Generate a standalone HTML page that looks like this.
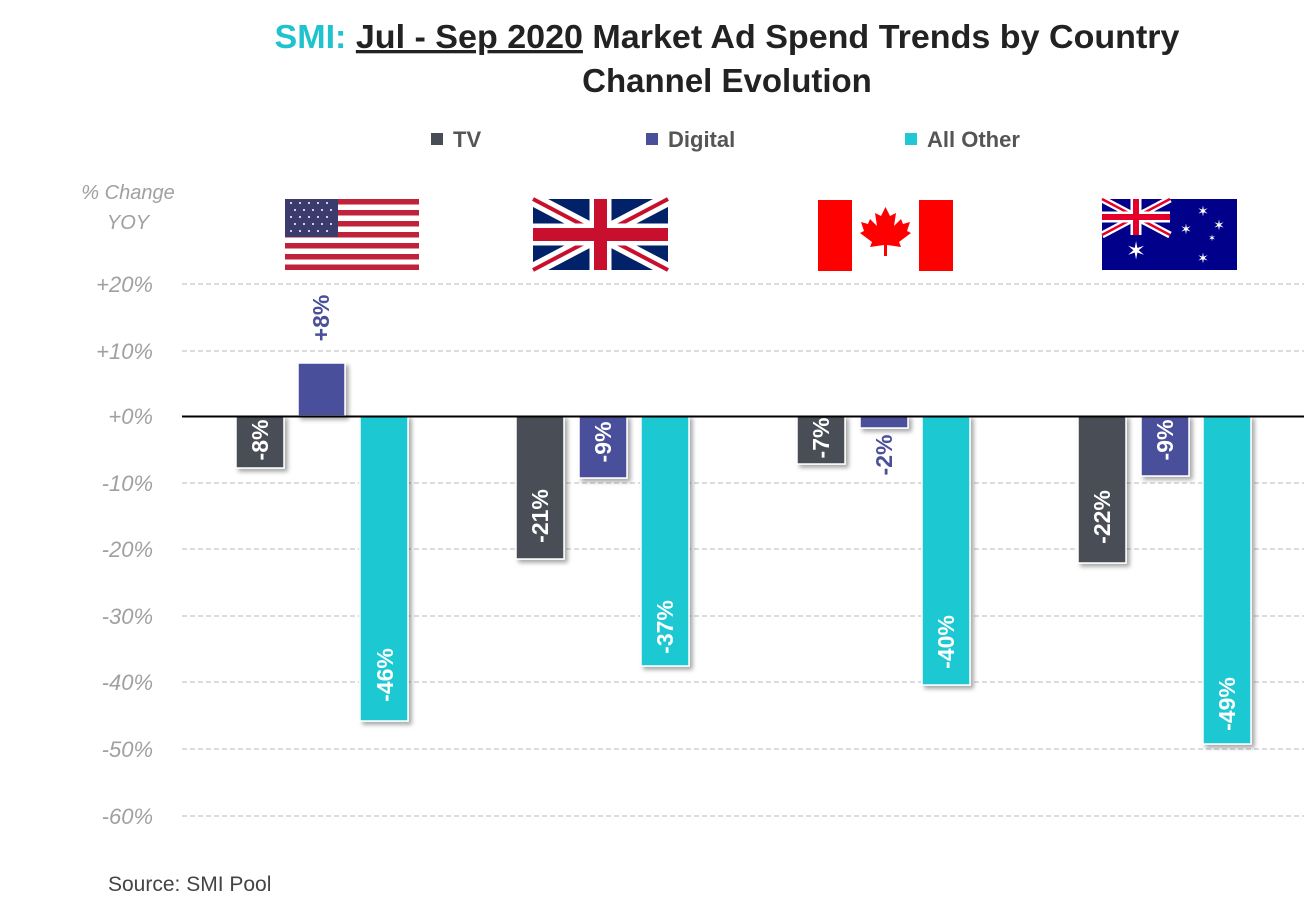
<!DOCTYPE html>
<html><head><meta charset="utf-8"><style>
body{margin:0;background:#fff;}
svg{display:block;font-family:"Liberation Sans",sans-serif;}
</style></head><body>
<svg width="1304" height="915" viewBox="0 0 1304 915" xmlns="http://www.w3.org/2000/svg">
<defs>
<filter id="sh" x="-20%" y="-20%" width="150%" height="150%"><feDropShadow dx="3" dy="3" stdDeviation="2" flood-color="#000" flood-opacity="0.35"/></filter>
</defs>
<!-- title -->
<text x="727" y="48" text-anchor="middle" font-size="33" font-weight="bold" fill="#222" textLength="905" lengthAdjust="spacingAndGlyphs"><tspan fill="#1fc3cd">SMI:</tspan> <tspan text-decoration="underline">Jul - Sep 2020</tspan> Market Ad Spend Trends by Country</text>
<text x="727" y="92" text-anchor="middle" font-size="33" font-weight="bold" fill="#222">Channel Evolution</text>
<!-- legend -->
<rect x="431" y="133" width="12" height="12" fill="#484d55"/>
<text x="453" y="147" font-size="22" font-weight="bold" fill="#555">TV</text>
<rect x="646" y="133" width="12" height="12" fill="#4a4f9a"/>
<text x="668" y="147" font-size="22" font-weight="bold" fill="#555">Digital</text>
<rect x="905" y="133" width="12" height="12" fill="#1fc8d2"/>
<text x="927" y="147" font-size="22" font-weight="bold" fill="#555">All Other</text>
<!-- axis title -->
<g font-style="italic" fill="#a0a0a0" font-size="20" text-anchor="middle">
<text x="128" y="199">% Change</text><text x="128" y="229">YOY</text>
</g>
<!-- grid -->
<g stroke="#c8c8c8" stroke-width="1.2" stroke-dasharray="5,3">
<line x1="182" y1="284" x2="1304" y2="284"/><line x1="182" y1="351" x2="1304" y2="351"/>
<line x1="182" y1="483" x2="1304" y2="483"/><line x1="182" y1="549" x2="1304" y2="549"/>
<line x1="182" y1="616" x2="1304" y2="616"/><line x1="182" y1="682" x2="1304" y2="682"/>
<line x1="182" y1="749" x2="1304" y2="749"/><line x1="182" y1="816" x2="1304" y2="816"/>
</g>
<g font-style="italic" fill="#a0a0a0" font-size="22" text-anchor="end">
<text x="153" y="292">+20%</text><text x="153" y="359">+10%</text><text x="153" y="424">+0%</text>
<text x="153" y="491">-10%</text><text x="153" y="557">-20%</text><text x="153" y="624">-30%</text>
<text x="153" y="690">-40%</text><text x="153" y="757">-50%</text><text x="153" y="824">-60%</text>
</g>
<!-- bars -->
<g filter="url(#sh)" stroke="#fff" stroke-width="1.5">
<rect x="236" y="416" width="48" height="52" fill="#484d55"/>
<rect x="298" y="363" width="47" height="53" fill="#4a4f9a"/>
<rect x="360" y="416" width="48" height="305" fill="#1fc8d2"/>
<rect x="516" y="416" width="48" height="143" fill="#484d55"/>
<rect x="579" y="416" width="48" height="62" fill="#4a4f9a"/>
<rect x="641" y="416" width="48" height="250" fill="#1fc8d2"/>
<rect x="797" y="416" width="48" height="48" fill="#484d55"/>
<rect x="860" y="416" width="48" height="12" fill="#4a4f9a"/>
<rect x="922" y="416" width="48" height="269" fill="#1fc8d2"/>
<rect x="1078" y="416" width="48" height="147" fill="#484d55"/>
<rect x="1141" y="416" width="48" height="60" fill="#4a4f9a"/>
<rect x="1203" y="416" width="48" height="328" fill="#1fc8d2"/>
</g>
<line x1="182" y1="416.5" x2="1304" y2="416.5" stroke="#000" stroke-width="2"/>
<!-- bar labels -->
<g font-size="23" font-weight="bold" fill="#fff" text-anchor="middle">
<text transform="translate(268,440) rotate(-90)">-8%</text>
<text transform="translate(393,675) rotate(-90)">-46%</text>
<text transform="translate(548,516) rotate(-90)">-21%</text>
<text transform="translate(611,442) rotate(-90)">-9%</text>
<text transform="translate(673,627) rotate(-90)">-37%</text>
<text transform="translate(829,438) rotate(-90)">-7%</text>
<text transform="translate(954,642) rotate(-90)">-40%</text>
<text transform="translate(1110,517) rotate(-90)">-22%</text>
<text transform="translate(1173,440) rotate(-90)">-9%</text>
<text transform="translate(1235,704) rotate(-90)">-49%</text>
</g>
<g font-size="23" font-weight="bold" fill="#4a4f9a" text-anchor="middle">
<text transform="translate(329,318) rotate(-90)">+8%</text>
<text transform="translate(892,455) rotate(-90)">-2%</text>
</g>
<!-- US flag -->
<g transform="translate(285,199)">
<rect width="134" height="71" fill="#fff"/>
<g fill="#c0223a">
<rect y="0" width="134" height="5.5"/><rect y="11" width="134" height="5.5"/><rect y="22" width="134" height="5.5"/>
<rect y="33" width="134" height="5.5"/><rect y="44" width="134" height="5.5"/><rect y="55" width="134" height="5.5"/><rect y="65.5" width="134" height="5.5"/>
</g>
<rect width="53" height="38" fill="#3c3b6e"/>
<g fill="#fff">
<circle cx="6" cy="4" r="1"/><circle cx="15" cy="4" r="1"/><circle cx="24" cy="4" r="1"/><circle cx="33" cy="4" r="1"/><circle cx="42" cy="4" r="1"/>
<circle cx="10" cy="11" r="1"/><circle cx="19" cy="11" r="1"/><circle cx="28" cy="11" r="1"/><circle cx="37" cy="11" r="1"/><circle cx="46" cy="11" r="1"/>
<circle cx="6" cy="18" r="1"/><circle cx="15" cy="18" r="1"/><circle cx="24" cy="18" r="1"/><circle cx="33" cy="18" r="1"/><circle cx="42" cy="18" r="1"/>
<circle cx="10" cy="25" r="1"/><circle cx="19" cy="25" r="1"/><circle cx="28" cy="25" r="1"/><circle cx="37" cy="25" r="1"/><circle cx="46" cy="25" r="1"/>
<circle cx="6" cy="32" r="1"/><circle cx="15" cy="32" r="1"/><circle cx="24" cy="32" r="1"/><circle cx="33" cy="32" r="1"/><circle cx="42" cy="32" r="1"/>
</g>
</g>
<!-- UK flag -->
<g transform="translate(533,199)">
<rect width="135" height="71" fill="#012169"/>
<path d="M0,0 L135,71 M135,0 L0,71" stroke="#fff" stroke-width="14"/>
<path d="M0,0 L135,71 M135,0 L0,71" stroke="#c8102e" stroke-width="4"/>
<path d="M67.5,0 V71 M0,35.5 H135" stroke="#fff" stroke-width="22"/>
<path d="M67.5,0 V71 M0,35.5 H135" stroke="#c8102e" stroke-width="13"/>
</g>
<!-- Canada flag -->
<g transform="translate(818,200)">
<rect width="135" height="71" fill="#fff"/>
<rect width="34" height="71" fill="#ff0000"/><rect x="101" width="34" height="71" fill="#ff0000"/>
<path d="M67.5,7 L72,16 L78,13 L76,26 L83,19 L85,24 L92,22 L89,31 L93,33 L81,42 L83,47 L69,45 L69,56 L66,56 L66,45 L52,47 L54,42 L42,33 L46,31 L43,22 L50,24 L52,19 L59,26 L57,13 L63,16 Z" fill="#ff0000"/>
</g>
<!-- Australia flag -->
<g transform="translate(1102,199)">
<rect width="135" height="71" fill="#00008b"/>
<g>
<path d="M0,0 L68,36 M68,0 L0,36" stroke="#fff" stroke-width="7"/>
<path d="M0,0 L68,36 M68,0 L0,36" stroke="#e4002b" stroke-width="2.5"/>
<path d="M34,0 V36 M0,18 H68" stroke="#fff" stroke-width="11"/>
<path d="M34,0 V36 M0,18 H68" stroke="#e4002b" stroke-width="6"/>
</g>
<g fill="#fff" font-size="14" text-anchor="middle">
<text x="34" y="60" font-size="24">✶</text>
<text x="101" y="17">✶</text>
<text x="117" y="31">✶</text><text x="84" y="35">✶</text><text x="110" y="42" font-size="9">✶</text><text x="101" y="64">✶</text>
</g>
</g>
<!-- source -->
<text x="108" y="891" font-size="21" fill="#444">Source: SMI Pool</text>
</svg>
</body></html>
